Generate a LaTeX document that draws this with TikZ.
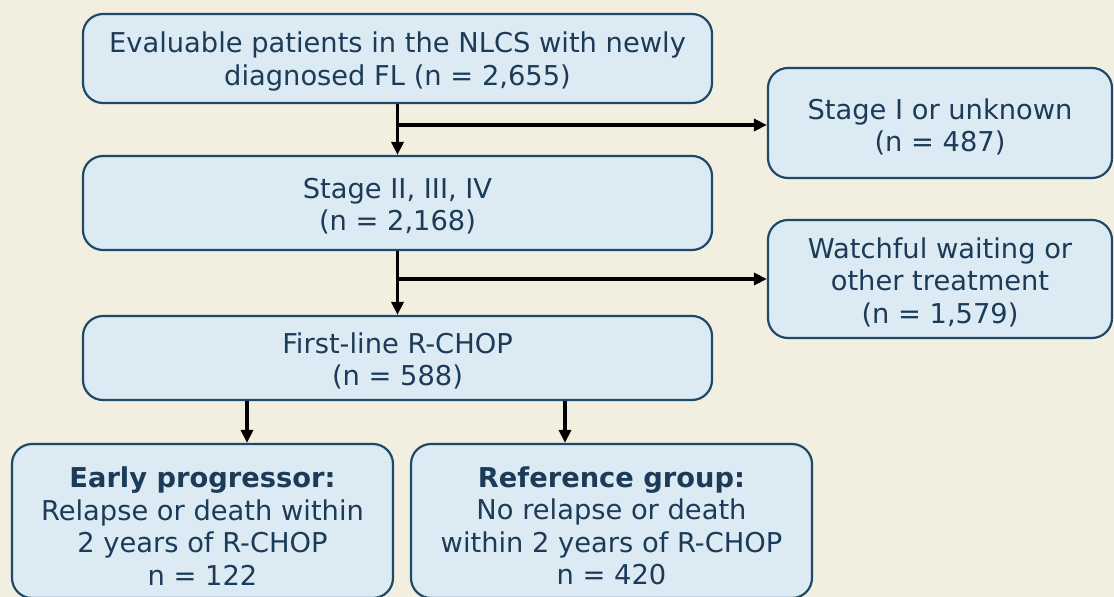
\documentclass[tikz,border=0pt]{standalone}
\usepackage{fontspec}
\setmainfont{DejaVu Sans}
\usetikzlibrary{arrows.meta}
\definecolor{bg}{HTML}{F2EEE0}
\definecolor{boxfill}{HTML}{DCEAF4}
\definecolor{bordercol}{HTML}{1E4A6A}
\definecolor{textcol}{HTML}{1B3B58}
\begin{document}
\begin{tikzpicture}[x=1pt,y=-1pt,
  box/.style={draw=bordercol, fill=boxfill, line width=2.2pt, rounded corners=20pt, inner sep=0pt},
  txt/.style={align=center, text=textcol, font=\fontsize{27.3}{32.5}\selectfont, inner sep=0pt},
  arr/.style={-{Triangle[length=13pt,width=12pt]}, line width=3.4pt, black}]
\fill[bg] (0,0) rectangle (1114,597);
\useasboundingbox (0,0) rectangle (1114,597);
\begin{scope}
\clip (0,0) rectangle (1114,597);
\node[box, minimum width=629pt, minimum height=89pt] (b1) at (397.5,58.5) {};
\node[box, minimum width=344pt, minimum height=110pt] (s1) at (940,123) {};
\node[box, minimum width=629pt, minimum height=94pt] (b2) at (397.5,203) {};
\node[box, minimum width=344pt, minimum height=118pt] (s2) at (940,279) {};
\node[box, minimum width=629pt, minimum height=84pt] (b3) at (397.5,358) {};
\node[box, minimum width=381pt, minimum height=154pt] (e) at (202.5,521) {};
\node[box, minimum width=401pt, minimum height=154pt] (r) at (611.5,521) {};
\end{scope}
\node[txt] (b1t) at ([yshift=-3pt]b1.center)
  {Evaluable patients in the NLCS with newly\\diagnosed FL (n = 2,655)};
\node[txt] (s1t) at ([yshift=-4pt]s1.center) {Stage I or unknown\\(n = 487)};
\node[txt] (b2t) at ([yshift=-3pt]b2.center) {Stage II, III, IV\\(n = 2,168)};
\node[txt] (s2t) at ([yshift=-3pt]s2.center) {Watchful waiting or\\other treatment\\(n = 1,579)};
\node[txt] (b3t) at ([yshift=-3pt]b3.center) {First-line R-CHOP\\(n = 588)};
\node[txt] (et) at ([yshift=-5pt]e.center)
  {\textbf{Early progressor:}\\Relapse or death within\\2 years of R-CHOP\\n = 122};
\node[txt] (rt) at ([yshift=-5pt]r.center)
  {\textbf{Reference group:}\\No relapse or death\\within 2 years of R-CHOP\\n = 420};
\coordinate (j1) at (397.5,125);
\coordinate (j2) at (397.5,279);
\coordinate (xa) at (247,0);
\coordinate (xb) at (565,0);
\draw[arr] (b1.south) -- (b2.north);
\draw[arr] (j1) -- (j1 -| s1.west);
\draw[arr] (b2.south) -- (b3.north);
\draw[arr] (j2) -- (j2 -| s2.west);
\draw[arr] (b3.south -| xa) -- (e.north -| xa);
\draw[arr] (b3.south -| xb) -- (r.north -| xb);
\end{tikzpicture}
\end{document}
